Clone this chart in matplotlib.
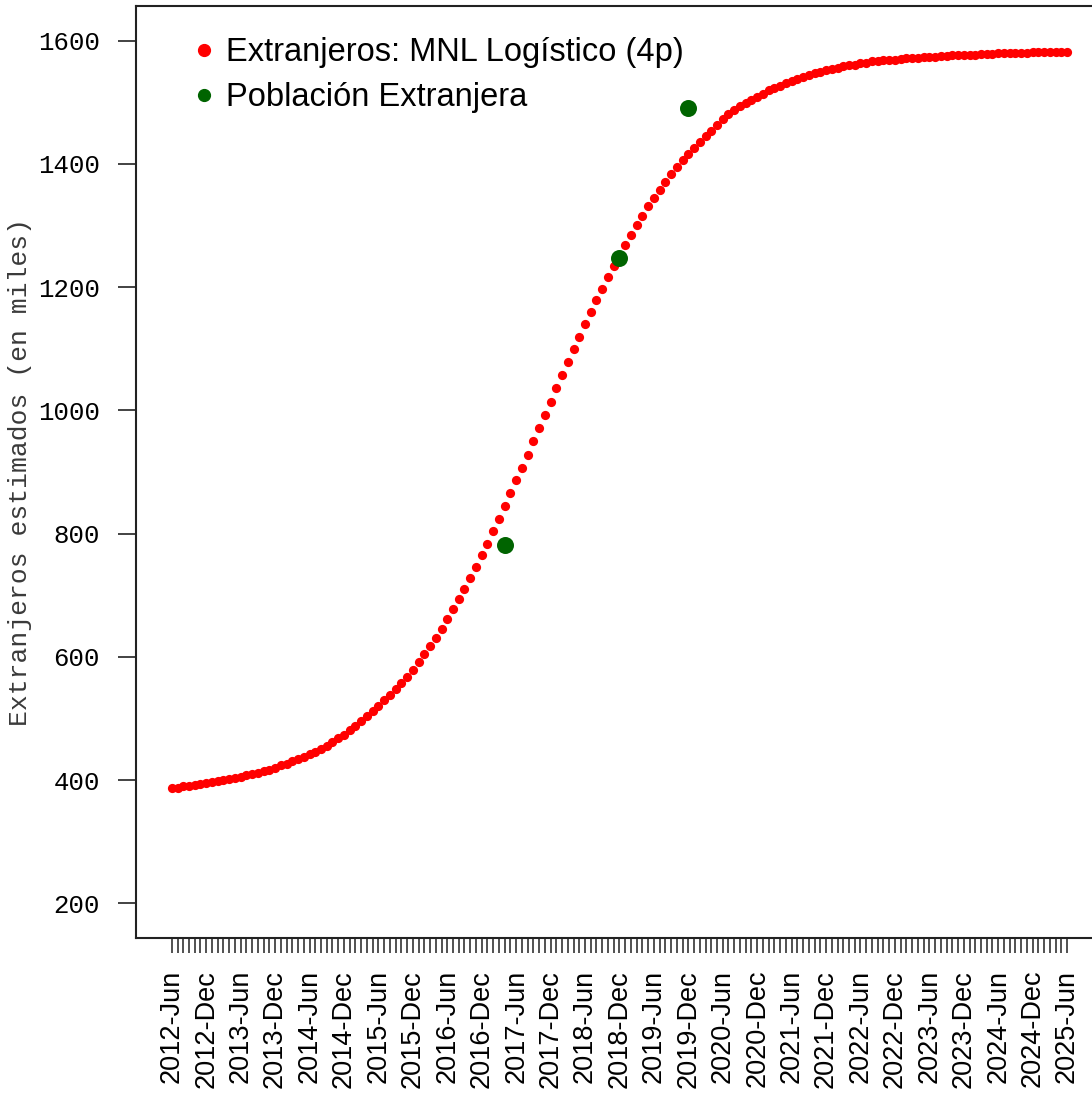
import matplotlib
matplotlib.use("Agg")
import matplotlib.pyplot as plt
from matplotlib.lines import Line2D
import pandas as pd

# monthly series, June 2012 to June 2025
start_month = "2012-06"
n_months = 157

# fitted 4-parameter logistic model (thousands)
modelo = [
    387, 388, 390, 391, 393, 394, 396, 397, 399, 401,
    402, 404, 406, 408, 410, 412, 415, 417, 420, 424,
    427, 431, 434, 438, 442, 446, 451, 456, 462, 468,
    474, 481, 488, 496, 504, 512, 521, 530, 539, 548,
    558, 568, 579, 591, 604, 617, 631, 646, 661, 677,
    694, 711, 728, 746, 765, 784, 804, 824, 845, 866,
    887, 907, 928, 950, 971, 992, 1014, 1036, 1057, 1078,
    1099, 1119, 1140, 1160, 1179, 1197, 1216, 1234, 1251, 1268,
    1285, 1301, 1316, 1331, 1345, 1358, 1371, 1383, 1395, 1406,
    1416, 1426, 1435, 1445, 1454, 1463, 1472, 1480, 1487, 1493,
    1499, 1504, 1509, 1514, 1519, 1523, 1527, 1531, 1535, 1538,
    1541, 1544, 1547, 1549, 1552, 1554, 1556, 1558, 1560, 1561,
    1563, 1564, 1566, 1567, 1568, 1569, 1569, 1570, 1571, 1571,
    1572, 1573, 1573, 1574, 1575, 1575, 1576, 1576, 1577, 1577,
    1577, 1578, 1578, 1578, 1579, 1579, 1579, 1580, 1580, 1580,
    1581, 1581, 1581, 1582, 1582, 1582, 1582,
]

# observed foreign population
obs_months = ["2017-04", "2018-12", "2019-12"]
obs_values = [781, 1247, 1491]

months = pd.date_range(start_month, periods=n_months, freq="MS")
labels = [m.strftime("%Y-%b") for m in months]
x = list(range(n_months))
obs_x = [list(months.strftime("%Y-%m")).index(m) for m in obs_months]

fig = plt.figure(figsize=(10.92, 10.93), dpi=100)
ax = fig.add_axes([0.1245, 0.1418, 0.8855, 0.8527])

ax.scatter(x, modelo, s=44, color="#ff0000", linewidths=0, zorder=2)
ax.scatter(obs_x, obs_values, s=150, color="#006400", linewidths=0, zorder=3)

ax.set_xlim(-6.24, n_months - 1 + 6.24)
ax.set_ylim(144, 1656)

# every month gets a tick, every 6th a label
ax.set_xticks(x)
ax.set_xticklabels([lab if i % 6 == 0 else "" for i, lab in enumerate(labels)],
                   rotation=90, fontsize=19.5, family="Liberation Sans")
ax.tick_params(axis="x", length=11, width=1.1, pad=12, color="#222222")

ax.set_yticks([200, 400, 600, 800, 1000, 1200, 1400, 1600])
for t in ax.get_yticklabels():
    t.set_family("Liberation Mono")
    t.set_fontsize(18.5)
ax.tick_params(axis="y", length=13, width=1.2, pad=13, color="#222222")

ax.set_ylabel("Extranjeros estimados (en miles)", family="Liberation Mono",
              fontsize=19, color="#3a3a3a")
ax.yaxis.set_label_coords(-0.108, 0.5)

for sp in ax.spines.values():
    sp.set_linewidth(1.5)
    sp.set_color("#222222")

handles = [
    Line2D([], [], marker="o", linestyle="", color="#ff0000", markersize=8.5),
    Line2D([], [], marker="o", linestyle="", color="#006400", markersize=8.5),
]
ax.legend(handles, ["Extranjeros: MNL Logístico (4p)", "Población Extranjera"],
          loc="upper left", bbox_to_anchor=(0.021, 1.003), frameon=False,
          prop={"family": "Liberation Sans", "size": 23.5},
          handlelength=0.8, handletextpad=0.3, labelspacing=0.42,
          borderaxespad=0.65)

fig.savefig("out.png", dpi=100)
